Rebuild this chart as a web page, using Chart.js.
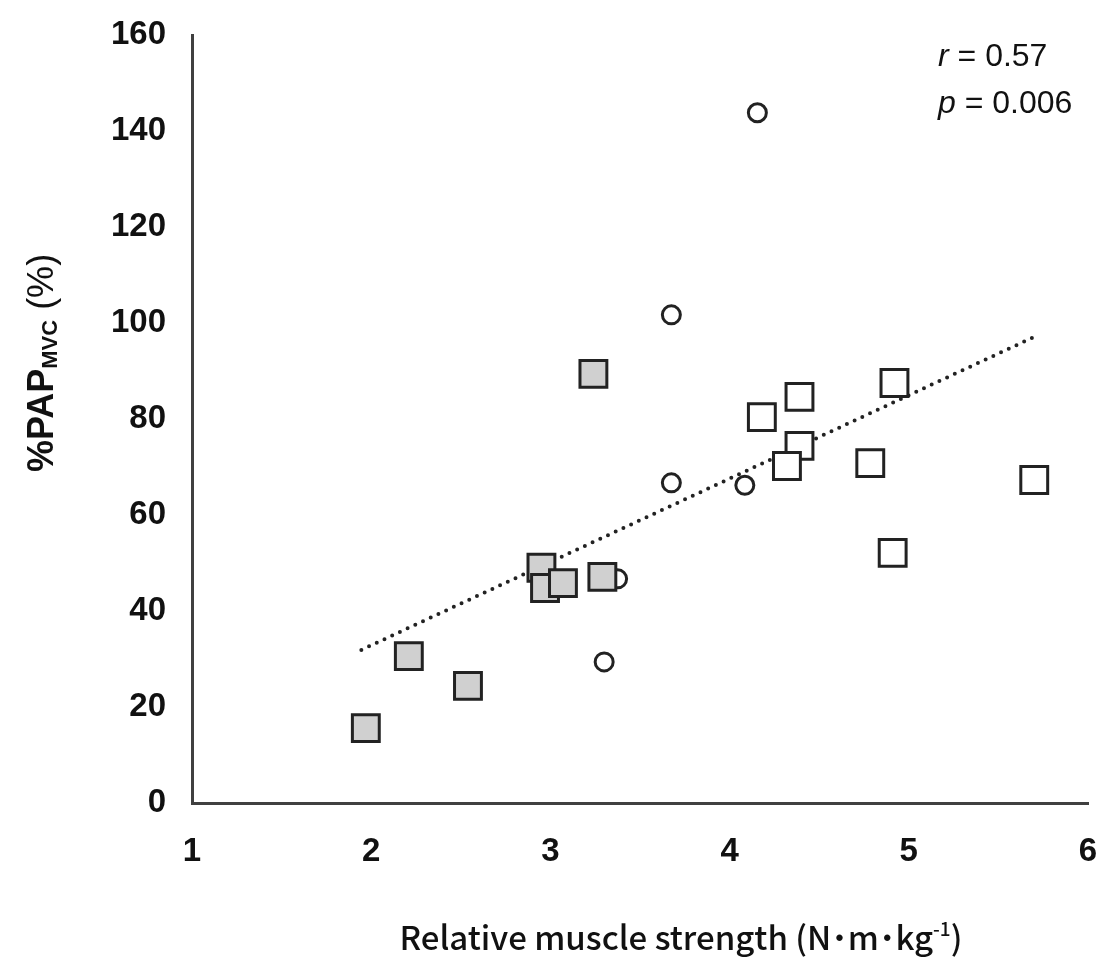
<!DOCTYPE html>
<html>
<head>
<meta charset="utf-8">
<script src="https://cdn.jsdelivr.net/npm/chart.js@4.4.1/dist/chart.umd.min.js"></script>
<style>
  html, body { margin: 0; padding: 0; background: #fff; overflow: hidden; }
  #wrap { width: 1110px; height: 965px; position: relative; }
  #papChart { display: block; }
</style>
</head>
<body>
<div id="wrap"><canvas id="papChart"></canvas></div>
<script>
// values
const grayX = [1.97, 2.21, 2.54, 2.95, 2.97, 3.07, 3.24, 3.29];
const grayY = [15.6, 30.6, 24.4, 49.0, 44.8, 45.8, 89.4, 47.1];
const openX = [4.18, 4.39, 4.39, 4.32, 4.92, 4.785, 4.91, 5.70];
const openY = [80.4, 84.6, 74.4, 70.2, 87.5, 70.8, 52.1, 67.3];
const circleX = [4.155, 3.675, 3.675, 4.085, 3.375, 3.30];
const circleY = [143.8, 101.7, 66.7, 66.2, 46.7, 29.4];
const trendX = [1.945, 5.70];
const trendY = [31.9, 97.1];
const xTicks = [1, 2, 3, 4, 5, 6];
const yTicks = [0, 20, 40, 60, 80, 100, 120, 140, 160];

const tickFont = { family: '"Liberation Sans", Arial', size: 33, weight: 'bold' };

function toPoints(xs, ys) {
    return xs.map((x, i) => ({ x: x, y: ys[i] }));
}

// draws a row of text pieces, each with its own font and baseline shift
function drawPieces(ctx, pieces, x, y, align) {
    let total = 0;
    pieces.forEach(p => { ctx.font = p.font; total += ctx.measureText(p.text).width; });
    let cx = align === 'center' ? x - total / 2 : x;
    ctx.textAlign = 'left';
    pieces.forEach(p => {
        ctx.font = p.font;
        ctx.fillText(p.text, cx, y + (p.shift || 0));
        cx += ctx.measureText(p.text).width;
    });
}

const labelsPlugin = {
    id: 'labels',
    afterDraw(chart) {
        const ctx = chart.ctx;
        ctx.save();
        ctx.fillStyle = '#111';
        ctx.textBaseline = 'alphabetic';

        // y axis title, rotated
        ctx.save();
        ctx.translate(53, 363);
        ctx.rotate(-Math.PI / 2);
        drawPieces(ctx, [
            { text: '%PAP', font: 'bold 36px "Liberation Sans", Arial' },
            { text: 'MVC', font: 'bold 22px "Liberation Sans", Arial', shift: 4 },
            { text: ' (%)', font: '36px "Liberation Sans", Arial' }
        ], 0, 0, 'center');
        ctx.restore();

        // x axis title
        const jp = '"Noto Sans CJK JP", "Noto Sans", sans-serif';
        drawPieces(ctx, [
            { text: 'Relative muscle strength (N', font: '500 33px ' + jp },
            { text: '･', font: 'bold 33px ' + jp },
            { text: 'm', font: '500 33px ' + jp },
            { text: '･', font: 'bold 33px ' + jp },
            { text: 'kg', font: '500 33px ' + jp },
            { text: '-1', font: '500 19px ' + jp, shift: -14 },
            { text: ')', font: '500 33px ' + jp }
        ], 681, 950, 'center');

        // correlation note
        drawPieces(ctx, [
            { text: 'r', font: 'italic 32px "Liberation Sans", Arial' },
            { text: ' = 0.57', font: '32px "Liberation Sans", Arial' }
        ], 938, 66, 'left');
        drawPieces(ctx, [
            { text: 'p', font: 'italic 32px "Liberation Sans", Arial' },
            { text: ' = 0.006', font: '32px "Liberation Sans", Arial' }
        ], 938, 113, 'left');
        ctx.restore();
    }
};

const ctx = document.getElementById('papChart').getContext('2d');
const papChart = new Chart(ctx, {
    type: 'scatter',
    data: {
        datasets: [
            {
                label: 'gray',
                data: toPoints(grayX, grayY),
                pointStyle: 'rect',
                pointRadius: 19,
                backgroundColor: '#d0d0d0',
                borderColor: '#222',
                borderWidth: 3,
                order: 0
            },
            {
                label: 'open',
                data: toPoints(openX, openY),
                pointStyle: 'rect',
                pointRadius: 19,
                backgroundColor: '#ffffff',
                borderColor: '#222',
                borderWidth: 3,
                order: 1
            },
            {
                label: 'trend',
                type: 'line',
                data: toPoints(trendX, trendY),
                showLine: true,
                pointRadius: 0,
                borderColor: '#222',
                borderWidth: 4,
                borderDash: [0, 8.5],
                borderCapStyle: 'round',
                fill: false,
                order: 2
            },
            {
                label: 'circle',
                data: toPoints(circleX, circleY),
                pointStyle: 'circle',
                pointRadius: 9,
                backgroundColor: 'rgba(0,0,0,0)',
                borderColor: '#222',
                borderWidth: 3,
                order: 3
            }
        ]
    },
    options: {
        responsive: true,
        maintainAspectRatio: false,
        animation: false,
        layout: {
            padding: { left: 0, top: 35, right: 13, bottom: 0 }
        },
        scales: {
            x: {
                type: 'linear',
                min: 1,
                max: 6,
                afterBuildTicks: (axis) => { axis.ticks = xTicks.map(v => ({ value: v })); },
                afterFit: (axis) => {
                    axis.height = 162;
                    axis.paddingLeft = 0;
                    axis.paddingRight = 0;
                },
                grid: { display: false, drawTicks: false },
                border: { display: true, color: '#404040', width: 3 },
                ticks: { padding: 29, color: '#111', font: tickFont }
            },
            y: {
                min: 0,
                max: 160,
                afterBuildTicks: (axis) => { axis.ticks = yTicks.map(v => ({ value: v })); },
                afterFit: (axis) => {
                    axis.width = 192;
                    axis.paddingTop = 0;
                    axis.paddingBottom = 0;
                },
                grid: { display: false, drawTicks: false },
                border: { display: true, color: '#404040', width: 3 },
                ticks: { padding: 26, color: '#111', font: tickFont }
            }
        },
        plugins: {
            legend: { display: false },
            tooltip: { enabled: false }
        }
    },
    plugins: [labelsPlugin]
});
</script>
</body>
</html>
